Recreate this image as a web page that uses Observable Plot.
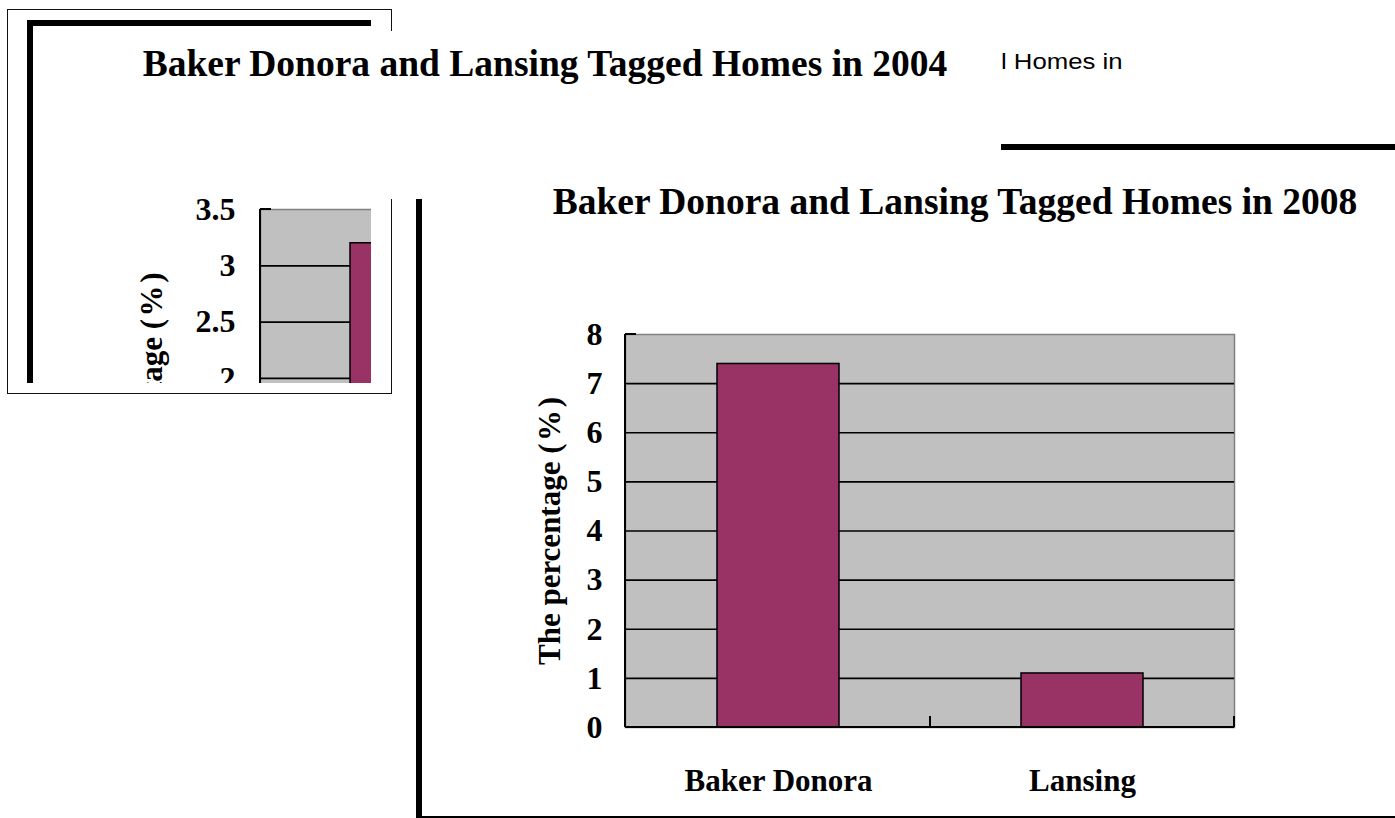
<!DOCTYPE html>
<html><head><meta charset="utf-8">
<script src="https://cdn.jsdelivr.net/npm/d3@7"></script>
<script src="https://cdn.jsdelivr.net/npm/@observablehq/plot@0.6"></script>
<style>
html,body{margin:0;padding:0;background:#fff;}
body{width:1395px;height:818px;position:relative;overflow:hidden;}
.abs{position:absolute;box-sizing:content-box;}
.title{font-family:'Liberation Serif','Times New Roman',serif;font-weight:bold;font-size:37.5px;line-height:37px;white-space:nowrap;text-align:center;color:#000;}
.frag{font-family:'Liberation Sans',Arial,sans-serif;font-size:22px;line-height:22px;white-space:nowrap;transform-origin:0 0;transform:scaleX(1.17);color:#000;}
</style></head><body>
<div id="box" class="abs" style="left:7px;top:9px;width:383px;height:383px;border:1px solid #111;"></div>
<div id="clip" class="abs" style="left:27px;top:20px;width:338px;height:357px;border-top:6px solid #000;border-left:6px solid #000;overflow:hidden;background:#fff;"></div>
<div class="abs" style="left:380px;top:31px;width:620px;height:168px;background:#fff;"></div>
<div id="title2004" class="abs title" style="left:45px;top:45px;width:1000px;"></div>
<div id="frag" class="abs frag" style="left:1001px;top:51px;"></div>
<div class="abs" style="left:1001px;top:144px;width:394px;height:6px;background:#000;"></div>
<div id="main" class="abs" style="left:416px;top:199px;width:973px;height:617px;border-left:6px solid #000;border-bottom:2px solid #000;background:#fff;"></div>
<div id="title2008" class="abs title" style="left:455px;top:183px;width:1000px;"></div>
<script>
// ---- data ----
const categories = ["Baker Donora", "Lansing"];
const pct2008 = [7.4, 1.1];
const sites2004 = ["Baker Donora"];          // only this bar is visible in the clipped 2004 chart
const pct2004 = [3.2];
const ticks2008 = [0, 1, 2, 3, 4, 5, 6, 7, 8];
const ticks2004 = [2, 2.5, 3, 3.5];           // the tick labels visible in the clipped 2004 chart
const title2008 = "Baker Donora and Lansing Tagged Homes in 2008";
const title2004 = "Baker Donora and Lansing Tagged Homes in 2004";
const fragment = "l Homes in";
const yLabel = "The percentage (\u200A%\u200A)";

const rows2008 = categories.map((c, i) => ({site: c, pct: pct2008[i]}));
const rows2004 = sites2004.map((c, i) => ({site: c, pct: pct2004[i]}));

document.getElementById("title2008").textContent = title2008;
document.getElementById("title2004").textContent = title2004;
document.getElementById("frag").textContent = fragment;

const SERIF = "'Liberation Serif','Times New Roman',serif";
const fmt = d => String(d);

// Excel-style axis lines and inside tick marks, drawn from the library's scales
function excelAxes(tickLen) {
  return (index, scales, values, dims) => {
    const x = scales.x, y = scales.y;
    const L = dims.marginLeft, R = dims.width - dims.marginRight;
    const B = dims.height - dims.marginBottom;
    const step = typeof x.step === "function" ? x.step() : scales.scales.x.step;
    const bw = typeof x.bandwidth === "function" ? x.bandwidth() : scales.scales.x.bandwidth;
    const g = d3.create("svg:g").attr("stroke", "#000").attr("fill", "none");
    const yMax = d3.max(y.domain());
    g.append("line").attr("x1", L).attr("x2", L).attr("y1", y(yMax)).attr("y2", B).attr("stroke-width", 2);
    g.append("line").attr("x1", L).attr("x2", R).attr("y1", y(0)).attr("y2", y(0)).attr("stroke-width", 2);
    g.append("line").attr("x1", L).attr("x2", L + tickLen).attr("y1", y(yMax)).attr("y2", y(yMax)).attr("stroke-width", 2);
    const bounds = [L, ...x.domain().slice(1).map(c => x(c) - (step - bw) / 2), R];
    for (const bx of bounds) {
      g.append("line").attr("x1", bx).attr("x2", bx).attr("y1", y(0)).attr("y2", y(0) - tickLen).attr("stroke-width", 2);
    }
    return g.node();
  };
}

function makeChart({rows, ticks, yMax, gridStep, width, height, margins, tickPadding, labelOffset, xLabels}) {
  const gridTicks = d3.range(gridStep, yMax - 1e-9, gridStep);
  return Plot.plot({
    width, height, ...margins,
    style: {fontFamily: SERIF, fontWeight: "bold", background: "transparent", overflow: "visible", color: "#000", maxWidth: "none"},
    x: {type: "band", domain: categories, paddingInner: 0.6, paddingOuter: 0.3, axis: xLabels ? undefined : null, label: null},
    y: {domain: [0, yMax], label: null},
    marks: [
      Plot.frame({fill: "#C0C0C0", stroke: "#808080", strokeWidth: 1.5}),
      Plot.gridY(gridTicks, {stroke: "#000", strokeOpacity: 1, strokeWidth: 1.7}),
      Plot.barY(rows, {x: "site", y: "pct", fill: "#993366", stroke: "#000", strokeWidth: 1.5}),
      excelAxes(11),
      Plot.axisY(ticks, {tickSize: 0, tickPadding, tickFormat: fmt, fontSize: 32, fontWeight: "bold", label: null}),
      Plot.axisY([], {label: yLabel, labelArrow: "none", labelAnchor: "center", labelOffset, fontSize: 31, fontWeight: "bold", tickSize: 0}),
      xLabels ? Plot.axisX({tickSize: 0, tickPadding: 41, fontSize: 31, fontWeight: "bold", label: null}) : null
    ]
  });
}

// ---- 2008 chart ----
const chart2008 = makeChart({
  rows: rows2008, ticks: ticks2008, yMax: 8, gridStep: 1, width: 973, height: 617,
  margins: {marginLeft: 203, marginRight: 161, marginTop: 135, marginBottom: 89},
  tickPadding: 23, labelOffset: 88, xLabels: true
});
document.getElementById("main").appendChild(chart2008);
Object.assign(chart2008.style, {position: "absolute", left: "0px", top: "0px"});

// ---- 2004 chart (clipped, partly hidden) ----
const chart2004 = makeChart({
  rows: rows2004, ticks: ticks2004, yMax: 3.5, gridStep: 0.5, width: 1000, height: 700,
  margins: {marginLeft: 260, marginRight: 140, marginTop: 209, marginBottom: 97},
  tickPadding: 25, labelOffset: 121, xLabels: false
});
document.getElementById("clip").appendChild(chart2004);
Object.assign(chart2004.style, {position: "absolute", left: "-33px", top: "-26px"});
</script>
</body></html>
